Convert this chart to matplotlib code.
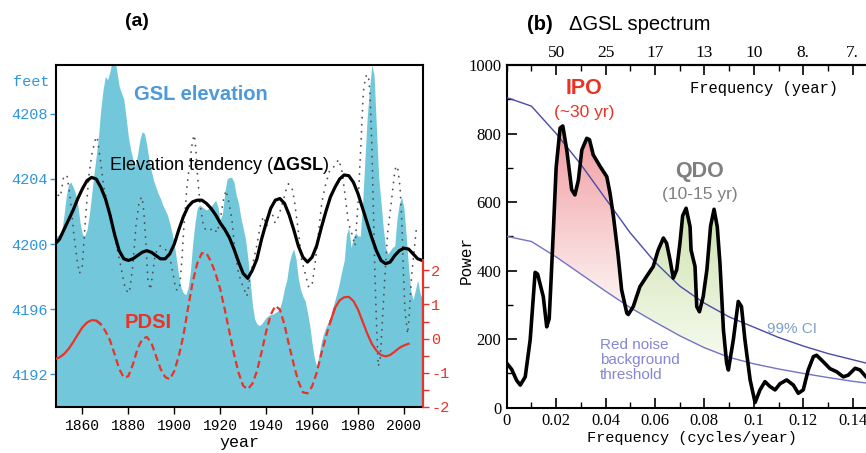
import numpy as np
import matplotlib
matplotlib.use('Agg')
import matplotlib.pyplot as plt
from matplotlib.colors import LinearSegmentedColormap
from matplotlib.path import Path
from matplotlib.ticker import MultipleLocator, FixedLocator

plt.rcParams['font.family'] = ['Liberation Sans', 'DejaVu Sans']
plt.rcParams['mathtext.fontset'] = 'custom'
plt.rcParams['mathtext.rm'] = 'Liberation Sans'
plt.rcParams['mathtext.bf'] = 'Liberation Sans:bold'
plt.rcParams['axes.unicode_minus'] = False

## DONNEES (a) : niveau du Grand Lac Salé, tendance, PDSI
gsl_year = list(range(1848, 2009))
gsl_ft = [4200.5, 4200.5, 4200.6, 4200.8, 4201.8, 4203.0, 4203.7, 4203.8, 4203.5, 4203.1,
          4202.4, 4201.3, 4200.6, 4200.5, 4200.9, 4201.8, 4203.0, 4204.3, 4205.4, 4206.6,
          4208.3, 4209.5, 4210.3, 4210.1, 4210.6, 4211.3, 4211.5, 4210.6, 4209.7, 4209.3,
          4208.9, 4207.8, 4206.6, 4205.8, 4205.2, 4204.8, 4205.5, 4206.4, 4206.9, 4206.8,
          4206.1, 4205.2, 4204.5, 4203.9, 4203.5, 4203.1, 4202.8, 4202.4, 4202.1, 4201.8,
          4201.3, 4200.7, 4200.0, 4199.0, 4198.0, 4197.3, 4197.0, 4196.9, 4197.3, 4198.3,
          4200.0, 4201.3, 4202.2, 4202.4, 4202.3, 4202.2, 4202.1, 4202.2, 4202.3, 4202.5,
          4202.7, 4202.3, 4201.5, 4201.9, 4203.2, 4204.0, 4204.1, 4204.1, 4203.8, 4203.0,
          4202.5, 4201.6, 4201.0, 4200.3, 4199.2, 4197.8, 4196.3, 4195.4, 4195.1, 4195.0,
          4195.1, 4195.3, 4195.5, 4195.6, 4195.7, 4195.7, 4195.8, 4195.9, 4196.1, 4196.6,
          4197.3, 4197.8, 4198.8, 4199.4, 4199.7, 4199.1, 4197.9, 4197.2, 4196.8, 4196.5,
          4195.8, 4195.0, 4193.9, 4193.0, 4192.5, 4193.2, 4194.0, 4194.5, 4194.9, 4195.2,
          4195.4, 4196.1, 4196.6, 4197.1, 4197.7, 4198.4, 4199.0, 4200.6, 4201.0, 4199.8,
          4200.4, 4200.7, 4200.5, 4200.5, 4202.5, 4205.2, 4207.8, 4209.5, 4211.0, 4210.4,
          4207.2, 4204.1, 4202.6, 4201.0, 4199.8, 4199.4, 4199.6, 4199.8, 4199.9, 4201.6,
          4202.5, 4202.9, 4202.2, 4200.5, 4198.6, 4197.1, 4196.6, 4197.2, 4197.8, 4197.0,
          4196.6]

dgsl_year = [1849.5, 1850.4, 1851.9, 1853.3, 1854.8, 1856.2, 1857.7, 1858.7, 1859.9, 1861.3,
             1862.8, 1864.2, 1865.6, 1866.4, 1867.8, 1869.3, 1870.8, 1872.2, 1874.3, 1876.5,
             1878.7, 1880.4, 1881.9, 1883.3, 1884.8, 1886.0, 1886.8, 1887.7, 1888.5, 1889.6,
             1890.6, 1891.7, 1893.9, 1896.1, 1898.3, 1899.7, 1900.7, 1902.2, 1903.3, 1904.2,
             1905.5, 1906.9, 1908.0, 1908.8, 1909.4, 1910.1, 1911.2, 1912.8, 1914.9, 1917.1,
             1918.6, 1920.0, 1921.4, 1922.5, 1923.6, 1925.1, 1926.5, 1928.0, 1929.4, 1931.6,
             1933.0, 1934.5, 1935.9, 1937.4, 1938.8, 1940.3, 1941.7, 1943.9, 1945.4, 1947.5,
             1949.0, 1949.7, 1951.2, 1952.3, 1954.1, 1955.5, 1957.0, 1958.4, 1959.9, 1961.3,
             1962.8, 1964.2, 1965.6, 1967.8, 1970.0, 1971.5, 1972.9, 1974.3, 1975.8, 1977.2,
             1978.7, 1980.1, 1981.3, 1982.3, 1983.3, 1984.5, 1985.2, 1986.0, 1986.7, 1987.4,
             1988.1, 1988.8, 1989.6, 1990.3, 1991.7, 1992.9, 1994.6, 1996.1, 1997.2, 1998.3,
             1999.0, 1999.7, 2000.4, 2001.6, 2002.2, 2003.3, 2004.8, 2005.5]
dgsl_ft = [4203.0, 4202.9, 4204.2, 4204.2, 4202.7, 4200.7, 4199.0, 4198.2, 4198.6, 4201.5,
           4204.2, 4205.6, 4206.4, 4206.6, 4205.2, 4203.5, 4202.6, 4201.9, 4200.3, 4198.8,
           4197.2, 4197.0, 4198.6, 4201.1, 4202.7, 4202.9, 4201.9, 4199.9, 4197.8, 4197.2,
           4198.2, 4199.4, 4199.9, 4199.7, 4199.0, 4198.0, 4197.2, 4197.2, 4199.0, 4201.1,
           4203.5, 4205.2, 4206.4, 4206.7, 4205.8, 4204.2, 4202.5, 4201.0, 4200.8, 4201.0,
           4200.7, 4201.5, 4202.7, 4203.3, 4202.7, 4201.5, 4199.4, 4198.2, 4197.6, 4196.8,
           4198.0, 4199.0, 4199.9, 4201.1, 4201.7, 4201.1, 4202.3, 4201.3, 4201.7, 4202.7,
           4203.5, 4203.7, 4203.5, 4202.7, 4200.7, 4199.0, 4198.2, 4197.4, 4197.4, 4198.8,
           4200.7, 4202.5, 4203.5, 4204.6, 4204.8, 4205.2, 4204.6, 4203.1, 4201.3, 4200.7,
           4199.9, 4202.7, 4206.2, 4209.3, 4210.3, 4210.4, 4209.3, 4206.2, 4202.1, 4198.0,
           4194.9, 4192.5, 4192.9, 4194.5, 4198.0, 4200.7, 4202.7, 4204.6, 4204.8, 4203.5,
           4201.7, 4198.6, 4196.0, 4194.5, 4195.4, 4198.0, 4200.1, 4201.1]

trend_year = list(range(1848, 2009, 2))
trend_ft = [4200.0, 4200.3, 4200.9, 4201.5, 4202.1, 4202.8, 4203.4, 4203.9, 4204.1, 4204.0,
            4203.5, 4202.8, 4201.8, 4200.6, 4199.6, 4199.1, 4199.0, 4199.1, 4199.3, 4199.5,
            4199.6, 4199.5, 4199.3, 4199.1, 4199.1, 4199.4, 4200.0, 4200.9, 4201.7, 4202.3,
            4202.6, 4202.7, 4202.7, 4202.5, 4202.2, 4201.8, 4201.3, 4200.9, 4200.4, 4199.7,
            4198.9, 4198.2, 4197.9, 4198.4, 4199.1, 4200.3, 4201.3, 4202.2, 4202.7, 4202.8,
            4202.5, 4201.8, 4200.9, 4199.9, 4199.2, 4198.9, 4199.2, 4199.9, 4201.0, 4202.0,
            4202.9, 4203.5, 4204.0, 4204.25, 4204.2, 4203.8, 4203.1, 4202.2, 4201.3, 4200.4,
            4199.6, 4199.0, 4198.8, 4198.9, 4199.3, 4199.6, 4199.75, 4199.7, 4199.4, 4199.1,
            4199.0]

pdsi_year = list(range(1848, 2003, 2))
pdsi_val = [-0.60, -0.55, -0.45, -0.30, -0.10, 0.12, 0.33, 0.47, 0.54, 0.53,
            0.42, 0.22, -0.05, -0.45, -0.88, -1.14, -1.10, -0.75, -0.30, -0.02,
            0.05, -0.12, -0.50, -0.88, -1.12, -1.19, -0.95, -0.50, 0.10, 0.90,
            1.65, 2.20, 2.50, 2.50, 2.25, 1.90, 1.45, 0.85, 0.20, -0.45,
            -1.00, -1.38, -1.48, -1.32, -0.95, -0.40, 0.20, 0.70, 0.96, 0.85,
            0.40, -0.20, -0.75, -1.25, -1.57, -1.60, -1.40, -1.00, -0.45, 0.05,
            0.50, 0.90, 1.12, 1.21, 1.22, 1.10, 0.85, 0.50, 0.15, -0.15,
            -0.35, -0.48, -0.52, -0.48, -0.38, -0.27, -0.20, -0.15]

gsl_ticks = [4192, 4196, 4200, 4204, 4208]
year_ticks = [1860, 1880, 1900, 1920, 1940, 1960, 1980, 2000]
pdsi_ticks = [-2, -1, 0, 1, 2]
pdsi_minor = [-1.5, -0.5, 0.5, 1.5]

## DONNEES (b) : spectre de la tendance
freq = [0.000, 0.002, 0.004, 0.0055, 0.0075, 0.0095, 0.0115, 0.0125, 0.0148, 0.0162,
        0.0172, 0.0180, 0.0189, 0.0200, 0.0216, 0.0227, 0.0243, 0.0263, 0.0276, 0.0290,
        0.0304, 0.0324, 0.0335, 0.0350, 0.0378, 0.0405, 0.0418, 0.0432, 0.0450, 0.0465,
        0.0486, 0.0492, 0.0512, 0.0539, 0.0566, 0.0593, 0.0613, 0.0634, 0.0647, 0.0661,
        0.0674, 0.0688, 0.0701, 0.0712, 0.0726, 0.0742, 0.0746, 0.0762, 0.0769, 0.0780,
        0.0795, 0.0810, 0.0825, 0.0839, 0.0852, 0.0863, 0.0877, 0.0890, 0.0897, 0.0917,
        0.0937, 0.0950, 0.0964, 0.0985, 0.1005, 0.1025, 0.1045, 0.1065, 0.1086, 0.1106,
        0.1133, 0.1160, 0.1180, 0.1200, 0.1220, 0.1241, 0.1254, 0.1281, 0.1308, 0.1335,
        0.1362, 0.1382, 0.1410, 0.1430, 0.1454, 0.1500]
power = [130, 112, 80, 66, 90, 198, 395, 390, 324, 236,
         260, 380, 519, 700, 816, 822, 752, 636, 621, 664,
         752, 786, 782, 738, 704, 674, 626, 558, 450, 344,
         276, 272, 295, 353, 383, 412, 460, 495, 480, 431,
         378, 403, 480, 560, 582, 528, 460, 412, 295, 280,
         324, 402, 530, 579, 528, 421, 227, 130, 110, 198,
         310, 295, 198, 81, 15, 52, 76, 62, 52, 70,
         81, 66, 42, 52, 110, 149, 153, 134, 114, 105,
         90, 95, 115, 110, 90, 70]

noise_f = [0.00, 0.01, 0.02, 0.03, 0.04, 0.05, 0.06, 0.07, 0.08, 0.09,
           0.10, 0.11, 0.12, 0.13, 0.14, 0.15]
noise_red = [500, 485, 440, 390, 340, 292, 250, 210, 175, 147,
             128, 113, 100, 88, 77, 68]
noise_99 = [905, 880, 800, 710, 610, 510, 425, 355, 305, 265,
            235, 205, 180, 158, 140, 122]

freq_ticks = [0, 0.02, 0.04, 0.06, 0.08, 0.1, 0.12, 0.14]
freq_labels = ['0', '0.02', '0.04', '0.06', '0.08', '0.1', '0.12', '0.14']
period_ticks = [0.02, 0.04, 0.06, 0.08, 0.10, 0.12, 0.14]
period_labels = ['50', '25', '17', '13', '10', '8.', '7.']


def px(x, y):
    return x / 866, 1 - y / 453


def gradient_fill(ax, x, ytop, ybot, mask, c_top, c_bot, ylo, yhi):
    poly = ax.fill_between(x, ybot, ytop, where=mask, interpolate=True,
                           facecolor='none', edgecolor='none')
    path = Path.make_compound_path(*poly.get_paths())
    cmap = LinearSegmentedColormap.from_list('grad', [c_bot, c_top])
    grad = np.linspace(0, 1, 256).reshape(-1, 1)
    im = ax.imshow(grad, cmap=cmap, extent=[x[0], x[-1], ylo, yhi], origin='lower',
                   aspect='auto', zorder=1)
    im.set_clip_path(path, transform=ax.transData)


fig = plt.figure(figsize=(8.66, 4.53), dpi=100)

## PANEL (a)
blue = '#2f96dc'
red = '#ea3326'
axa = fig.add_axes([56 / 866, 46 / 453, 367 / 866, 342 / 453])
axa.fill_between(gsl_year, 4190, gsl_ft, color='#72c8da', lw=0, zorder=1)
axa.plot(dgsl_year, dgsl_ft, color='#505050', lw=1.3, ls=(0, (0.1, 3.8)),
         dash_capstyle='round', zorder=2)
axa.plot(trend_year, trend_ft, color='k', lw=2.3, zorder=4)
axa.set_xlim(1848.5, 2008.3)
axa.set_ylim(4190, 4211)
axa.set_yticks(gsl_ticks)
axa.set_xticks(year_ticks)
axa.tick_params(axis='y', direction='out', length=4, width=1, color=blue, labelcolor=blue,
                labelsize=11, pad=2)
axa.tick_params(axis='x', direction='out', length=5, width=1, labelsize=10.5, pad=4)
for lab in axa.get_yticklabels() + axa.get_xticklabels():
    lab.set_fontfamily('Liberation Mono')
for s in axa.spines.values():
    s.set_linewidth(1.5)
axa.set_xlabel('year', fontsize=12, family='Liberation Mono', labelpad=1)

axa2 = axa.twinx()
yrs = np.array(pdsi_year)
vals = np.array(pdsi_val)
m1 = yrs <= 1868
m2 = (yrs >= 1866) & (yrs <= 1970)
m3 = yrs >= 1968
axa2.plot(yrs[m1], vals[m1], color=red, lw=1.6, zorder=5)
axa2.plot(yrs[m2], vals[m2], color=red, lw=1.6, dashes=(3.2, 1.8), zorder=5)
axa2.plot(yrs[m3], vals[m3], color=red, lw=1.6, zorder=5)
axa2.set_ylim(-2, 8)
axa2.set_yticks(pdsi_ticks)
axa2.yaxis.set_minor_locator(FixedLocator(pdsi_minor))
axa2.tick_params(axis='y', which='both', direction='out', length=4, width=1, color=red,
                 labelcolor=red, labelsize=11, pad=2)
for lab in axa2.get_yticklabels():
    lab.set_fontfamily('Liberation Mono')
for k in ['left', 'top', 'bottom']:
    axa2.spines[k].set_visible(False)
axa2.spines['right'].set_color(red)
axa2.spines['right'].set_linewidth(1.5)
axa2.spines['right'].set_bounds(-2, 2.3)

fig.text(*px(137, 22), '(a)', fontsize=14, weight='bold', ha='center', va='center')
fig.text(*px(50, 82), 'feet', fontsize=11, color=blue, family='Liberation Mono',
         ha='right', va='center')
fig.text(*px(201, 95), 'GSL elevation', fontsize=14.5, weight='bold', color='#4c9ad8',
         ha='center', va='center')
fig.text(*px(219, 166), r'Elevation tendency ($\mathbf{\Delta GSL}$)', fontsize=13,
         ha='center', va='center')
fig.text(*px(148, 322), 'PDSI', fontsize=14.5, weight='bold', color=red,
         ha='center', va='center')

## PANEL (b)
axb = fig.add_axes([506.7 / 866, 45.3 / 453, 370.7 / 866, 342.7 / 453])
f = np.array(freq)
p = np.array(power)
low = np.interp(f, noise_f, noise_red)
gradient_fill(axb, f, p, low, (p >= low) & (f > 0.015) & (f < 0.0495),
              '#f09a9e', '#fdf3f3', 300, 830)
gradient_fill(axb, f, p, low, (p >= low) & (f > 0.0495) & (f < 0.0905),
              '#cde2ad', '#f8fbf1', 130, 590)
axb.plot(noise_f, noise_99, color='#4a4aa8', lw=1.0, zorder=3)
axb.plot(noise_f, noise_red, color='#7272c8', lw=1.0, zorder=3)
axb.plot(freq, power, color='k', lw=2.6, zorder=4, solid_joinstyle='round')
axb.set_xlim(0, 0.15)
axb.set_ylim(0, 1000)
axb.set_xticks(freq_ticks, labels=freq_labels)
axb.xaxis.set_minor_locator(MultipleLocator(0.01))
axb.yaxis.set_major_locator(MultipleLocator(200))
axb.yaxis.set_minor_locator(MultipleLocator(100))
axb.tick_params(which='major', direction='in', length=7, width=1.2, labelsize=12, pad=4)
axb.tick_params(which='minor', direction='in', length=4, width=1)
axb.tick_params(axis='x', top=False)
for lab in axb.get_yticklabels() + axb.get_xticklabels():
    lab.set_fontfamily('Liberation Serif')
for s in axb.spines.values():
    s.set_linewidth(1.5)
axb.spines['right'].set_visible(False)

axt = axb.secondary_xaxis('top')
axt.set_xticks(period_ticks, labels=period_labels)
axt.xaxis.set_minor_locator(MultipleLocator(0.01))
axt.tick_params(which='major', direction='in', length=7, width=1.2, labelsize=12.5, pad=3)
axt.tick_params(which='minor', direction='in', length=4, width=1)
axt.spines['top'].set_linewidth(1.5)
for lab in axt.get_xticklabels():
    lab.set_fontfamily('Liberation Serif')

axb.set_xlabel('Frequency (cycles/year)', fontsize=11, family='Liberation Mono', labelpad=1)
axb.set_ylabel('Power', fontsize=11.5, family='Liberation Mono')
axb.yaxis.set_label_coords(-0.09, 0.43)

fig.text(*px(527, 24), '(b)', fontsize=14.5, weight='bold', ha='left', va='center')
fig.text(*px(569, 24), '\u0394GSL spectrum', fontsize=14.5, ha='left', va='center')
fig.text(*px(584, 88), 'IPO', fontsize=15.5, weight='bold', color=red, ha='center', va='center')
fig.text(*px(584, 113), '(~30 yr)', fontsize=12.5, color=red, ha='center', va='center')
fig.text(*px(700, 172), 'QDO', fontsize=15.5, weight='bold', color='#7f7f7f',
         ha='center', va='center')
fig.text(*px(700, 194), '(10-15 yr)', fontsize=12.5, color='#7f7f7f', ha='center', va='center')
fig.text(*px(764, 88), 'Frequency (year)', fontsize=11.2, family='Liberation Mono',
         ha='center', va='center')
fig.text(*px(767, 329), '99% CI', fontsize=11, color='#7f9fcc', ha='left', va='center')
fig.text(*px(600, 360), 'Red noise\nbackground\nthreshold', fontsize=11, color='#8686d2',
         ha='left', va='center', linespacing=1.1)

fig.savefig('out.png', dpi=100)
